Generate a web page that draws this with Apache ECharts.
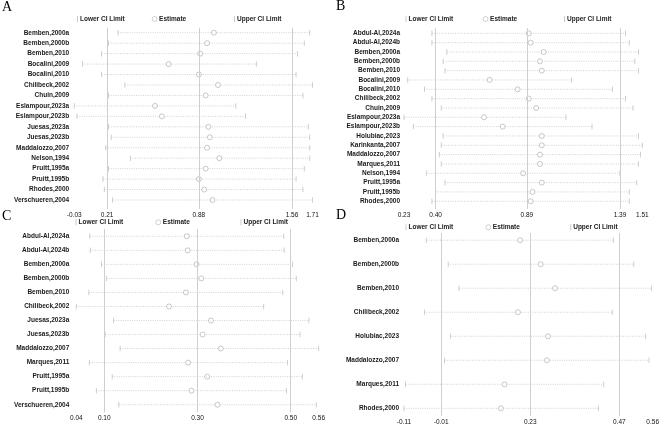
<!DOCTYPE html>
<html>
<head>
<meta charset="utf-8">
<script src="https://cdn.jsdelivr.net/npm/echarts@6/dist/echarts.min.js"></script>
<style>
    html, body { margin: 0; padding: 0; background: #fff; }
    #main { width: 669px; height: 428px; }
</style>
</head>
<body>
<div id="main"></div>
<script>
    // ---- data ----
    var namesA = ['Bemben,2000a', 'Bemben,2000b', 'Bemben,2010', 'Bocalini,2009', 'Bocalini,2010', 'Chilibeck,2002',
        'Chuin,2009', 'Eslampour,2023a', 'Eslampour,2023b', 'Juesas,2023a', 'Juesas,2023b', 'Maddalozzo,2007',
        'Nelson,1994', 'Pruitt,1995a', 'Pruitt,1995b', 'Rhodes,2000', 'Verschueren,2004'];
    var lowerA = [0.29, 0.22, 0.17, 0.03, 0.17, 0.34, 0.22, -0.03, -0.01, 0.22, 0.24, 0.20, 0.38, 0.22, 0.18, 0.19, 0.25];
    var estA = [0.99, 0.94, 0.89, 0.66, 0.88, 1.02, 0.93, 0.56, 0.61, 0.95, 0.96, 0.94, 1.03, 0.93, 0.88, 0.92, 0.98];
    var upperA = [1.69, 1.65, 1.60, 1.30, 1.59, 1.71, 1.64, 1.15, 1.22, 1.68, 1.69, 1.69, 1.69, 1.65, 1.59, 1.64, 1.71];
    var refA = [0.21, 0.88, 1.56];
    var ticksA = [-0.03, 0.21, 0.88, 1.56, 1.71];

    var namesB = ['Abdul-Al,2024a', 'Abdul-Al,2024b', 'Bemben,2000a', 'Bemben,2000b', 'Bemben,2010', 'Bocalini,2009',
        'Bocalini,2010', 'Chilibeck,2002', 'Chuin,2009', 'Eslampour,2023a', 'Eslampour,2023b', 'Holubiac,2023',
        'Karinkanta,2007', 'Maddalozzo,2007', 'Marques,2011', 'Nelson,1994', 'Pruitt,1995a', 'Pruitt,1995b', 'Rhodes,2000'];
    var lowerB = [0.38, 0.38, 0.46, 0.44, 0.45, 0.25, 0.34, 0.38, 0.43, 0.23, 0.28, 0.44, 0.43, 0.42, 0.43, 0.35, 0.45, 0.40, 0.38];
    var estB = [0.90, 0.91, 0.98, 0.96, 0.97, 0.69, 0.84, 0.90, 0.94, 0.66, 0.76, 0.97, 0.97, 0.96, 0.96, 0.87, 0.97, 0.92, 0.91];
    var upperB = [1.42, 1.44, 1.49, 1.47, 1.49, 1.13, 1.35, 1.42, 1.46, 1.10, 1.24, 1.49, 1.51, 1.50, 1.49, 1.39, 1.48, 1.44, 1.44];
    var refB = [0.40, 0.89, 1.39];
    var ticksB = [0.23, 0.40, 0.89, 1.39, 1.51];

    var namesC = ['Abdul-Al,2024a', 'Abdul-Al,2024b', 'Bemben,2000a', 'Bemben,2000b', 'Bemben,2010', 'Chilibeck,2002',
        'Juesas,2023a', 'Juesas,2023b', 'Maddalozzo,2007', 'Marques,2011', 'Pruitt,1995a', 'Pruitt,1995b', 'Verschueren,2004'];
    var lowerC = [0.069, 0.070, 0.094, 0.105, 0.067, 0.040, 0.120, 0.102, 0.134, 0.068, 0.117, 0.083, 0.131];
    var estC = [0.277, 0.279, 0.298, 0.308, 0.275, 0.239, 0.329, 0.311, 0.350, 0.280, 0.321, 0.287, 0.343];
    var upperC = [0.485, 0.486, 0.504, 0.512, 0.483, 0.442, 0.539, 0.520, 0.560, 0.493, 0.525, 0.491, 0.555];
    var refC = [0.10, 0.30, 0.50];
    var ticksC = [0.04, 0.10, 0.30, 0.50, 0.56];

    var namesD = ['Bemben,2000a', 'Bemben,2000b', 'Bemben,2010', 'Chilibeck,2002', 'Holubiac,2023', 'Maddalozzo,2007',
        'Marques,2011', 'Rhodes,2000'];
    var lowerD = [-0.050, 0.009, 0.038, -0.055, 0.015, -0.001, -0.106, -0.110];
    var estD = [0.203, 0.258, 0.297, 0.197, 0.278, 0.275, 0.161, 0.151];
    var upperD = [0.454, 0.509, 0.557, 0.451, 0.541, 0.550, 0.428, 0.414];
    var refD = [-0.01, 0.23, 0.47];
    var ticksD = [-0.11, -0.01, 0.23, 0.47, 0.56];

    // ---- layout of the four panels ----
    var panels = [
        { letter: 'A', names: namesA, lower: lowerA, est: estA, upper: upperA, ref: refA, ticks: ticksA,
          grid: { left: 74.2, top: 27.7, width: 238.3, height: 181.3 }, pad: [0.48, 0.86], labelGap: 5,
          letterPos: [2, 0], legendY: 15.5, legendX: [77, 151.8, 234] },
        { letter: 'B', names: namesB, lower: lowerB, est: estB, upper: upperB, ref: refB, ticks: ticksB,
          grid: { left: 404, top: 28, width: 238.3, height: 181 }, pad: [0.57, 0.83], labelGap: 4,
          letterPos: [336, -1], legendY: 15.5, legendX: [405.5, 482.8, 564] },
        { letter: 'C', names: namesC, lower: lowerC, est: estC, upper: upperC, ref: refC, ticks: ticksC,
          grid: { left: 76.3, top: 229, width: 242.4, height: 183.3 }, pad: [0.52, 0.54], labelGap: 7,
          letterPos: [2, 209], legendY: 218.8, legendX: [75.5, 155.5, 240.5] },
        { letter: 'D', names: namesD, lower: lowerD, est: estD, upper: upperD, ref: refD, ticks: ticksD,
          grid: { left: 404, top: 233, width: 248.7, height: 183 }, pad: [0.30, 0.32], labelGap: 5,
          letterPos: [336, 208], legendY: 223.8, legendX: [405.5, 485.5, 570.2] }
    ];

    var font = 'Liberation Sans, Arial, sans-serif';
    var tickColor = '#bdbdbd';
    var circleColor = '#9e9e9e';
    var refColor = '#cfcfcf';

    var option = {
        backgroundColor: '#fff',
        animation: false,
        title: [],
        legend: [],
        grid: [],
        xAxis: [],
        yAxis: [],
        series: []
    };

    var legendNames = ['Lower CI Limit', 'Estimate', 'Upper CI Limit'];

    panels.forEach(function (p, k) {
        var n = p.names.length;
        option.title.push({
            text: p.letter,
            left: p.letterPos[0],
            top: p.letterPos[1],
            padding: 0,
            textStyle: { fontFamily: 'Liberation Serif, Times New Roman, serif', fontSize: 14, fontWeight: 'normal', color: '#000' }
        });
        legendNames.forEach(function (name, j) {
            var circle = name === 'Estimate';
            var lg = {
                data: [name],
                left: p.legendX[j],
                top: p.legendY,
                padding: 0,
                selectedMode: false,
                icon: circle ? 'circle' : 'rect',
                itemWidth: circle ? 5 : 1,
                itemHeight: circle ? 5 : 6,
                textStyle: { fontFamily: font, fontSize: 6.5, fontWeight: 'bold', color: '#222', padding: [0, 0, 0, -3] }
            };
            if (circle) {
                lg.itemStyle = { color: '#fff', borderColor: circleColor, borderWidth: 0.6 };
            }
            option.legend.push(lg);
        });
        option.grid.push(p.grid);
        option.xAxis.push({
            type: 'value',
            gridIndex: k,
            min: p.ticks[0],
            max: p.ticks[p.ticks.length - 1],
            axisLine: { show: false },
            axisTick: { show: false },
            splitLine: { show: false },
            axisLabel: {
                customValues: p.ticks,
                margin: 2.5,
                fontFamily: font,
                fontSize: 6.5,
                color: '#111',
                formatter: function (v) { return v.toFixed(2); }
            }
        });
        option.yAxis.push({
            type: 'value',
            gridIndex: k,
            inverse: true,
            min: -p.pad[0],
            max: n - 1 + p.pad[1],
            axisLine: { show: false },
            axisTick: { show: false },
            splitLine: { show: false },
            axisLabel: {
                customValues: p.names.map(function (d, i) { return i; }),
                margin: p.labelGap,
                fontFamily: font,
                fontSize: 6.5,
                fontWeight: 'bold',
                color: '#1a1a1a',
                formatter: function (v) { return p.names[v]; }
            }
        });

        // dotted CI line from lower to upper
        option.series.push({
            type: 'custom',
            xAxisIndex: k,
            yAxisIndex: k,
            silent: true,
            z: 1,
            encode: { x: [0, 1], y: 2 },
            data: p.names.map(function (d, i) { return [p.lower[i], p.upper[i], i]; }),
            renderItem: function (params, api) {
                var a = api.coord([api.value(0), api.value(2)]);
                var b = api.coord([api.value(1), api.value(2)]);
                return {
                    type: 'line',
                    shape: { x1: a[0], y1: a[1], x2: b[0], y2: b[1] },
                    style: { stroke: '#c6c6c6', lineWidth: 0.8, lineDash: [1, 1.3] }
                };
            }
        });
        option.series.push({
            name: 'Lower CI Limit',
            type: 'scatter',
            xAxisIndex: k,
            yAxisIndex: k,
            symbol: 'rect',
            symbolSize: [0.9, 5.5],
            itemStyle: { color: tickColor },
            z: 3,
            data: p.names.map(function (d, i) { return [p.lower[i], i]; })
        });
        option.series.push({
            name: 'Estimate',
            type: 'scatter',
            xAxisIndex: k,
            yAxisIndex: k,
            symbol: 'circle',
            symbolSize: 5,
            itemStyle: { color: '#fff', borderColor: circleColor, borderWidth: 0.7 },
            z: 4,
            data: p.names.map(function (d, i) { return [p.est[i], i]; }),
            markLine: {
                silent: true,
                symbol: ['none', 'none'],
                label: { show: false },
                lineStyle: { color: refColor, type: 'solid', width: 1 },
                data: p.ref.map(function (v) { return { xAxis: v }; })
            }
        });
        option.series.push({
            name: 'Upper CI Limit',
            type: 'scatter',
            xAxisIndex: k,
            yAxisIndex: k,
            symbol: 'rect',
            symbolSize: [0.9, 5.5],
            itemStyle: { color: tickColor },
            z: 3,
            data: p.names.map(function (d, i) { return [p.upper[i], i]; })
        });
    });

    var myChart = echarts.init(document.getElementById('main'));
    myChart.setOption(option);
</script>
</body>
</html>
